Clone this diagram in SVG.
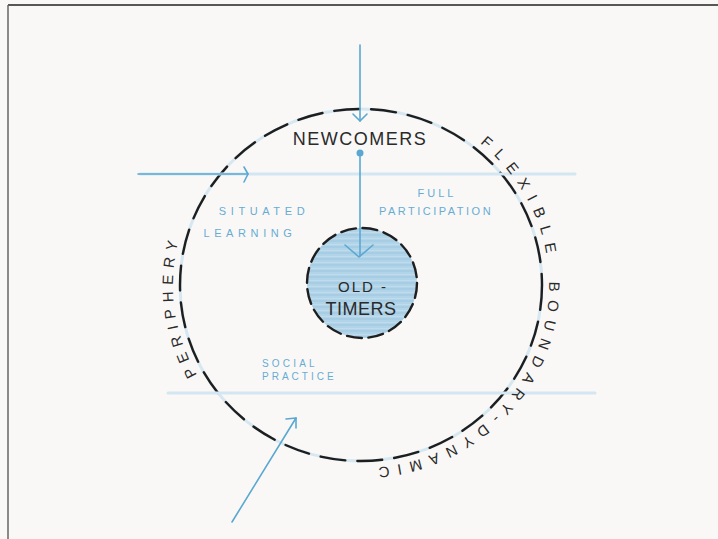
<svg xmlns="http://www.w3.org/2000/svg" width="718" height="539" viewBox="0 0 718 539">
<style>
.hand{font-family:"Liberation Sans","DejaVu Sans",sans-serif;fill:#2a2a2a}
.blue{font-family:"Liberation Sans","DejaVu Sans",sans-serif;fill:#68acd4}
.conn{stroke:#5aa8d2;stroke-width:1.6;fill:none;stroke-linecap:round;stroke-linejoin:round}
.faint{stroke:#d3e6f1;stroke-width:3;fill:none;stroke-linecap:round}
.ring{font-family:"Liberation Sans","DejaVu Sans",sans-serif;fill:#2a2a2a;font-size:15px}
</style>
<defs>
<pattern id="streak" width="10" height="6" patternUnits="userSpaceOnUse">
<rect width="10" height="6" fill="#b2d4e8"/>
<rect y="0" width="10" height="2" fill="#a6cde4"/>
<rect y="4" width="10" height="1" fill="#bfdbec"/>
</pattern>
<path id="ringPath" d="M361 102 A188 183 0 1 1 361 468 A188 183 0 1 1 361 102"/>
</defs>
<rect width="718" height="539" fill="#f9f8f6"/>
<line x1="8" y1="5" x2="718" y2="5" stroke="#222" stroke-width="1.5"/>
<line x1="8" y1="5" x2="8" y2="539" stroke="#666" stroke-width="1.5"/>

<g id="community">
<ellipse cx="361" cy="285" rx="181" ry="176" fill="none" stroke="#d5e7f1" stroke-width="3"/>
<ellipse cx="361" cy="285" rx="181" ry="176" fill="none" stroke="#1e1e1e" stroke-width="2.4" stroke-dasharray="25 12" stroke-linecap="round"/>
</g>

<g id="guides">
<line class="faint" x1="140" y1="174" x2="575" y2="174"/>
<line class="faint" x1="168" y1="393" x2="595" y2="393"/>
</g>

<g id="oldtimers">
<circle cx="362" cy="283" r="55" fill="url(#streak)"/>
<circle cx="362" cy="283" r="55" fill="none" stroke="#1e1e1e" stroke-width="2.4" stroke-dasharray="15 6.6" stroke-linecap="round"/>
<text class="hand" x="363" y="292" font-size="15" text-anchor="middle" letter-spacing="2">OLD -</text>
<text class="hand" x="361" y="315" font-size="18" text-anchor="middle" letter-spacing="0.5">TIMERS</text>
</g>

<g id="newcomers">
<text class="hand" x="360" y="145" font-size="18" text-anchor="middle" letter-spacing="1.5">NEWCOMERS</text>
</g>

<g id="connectors">
<line class="conn" x1="360" y1="45" x2="360" y2="121"/>
<polyline class="conn" points="353,114 360,121 367,114"/>
<circle cx="360" cy="153" r="3.5" fill="#5aa8d2"/>
<line class="conn" x1="360" y1="153" x2="360" y2="256"/>
<polyline class="conn" points="345,245 359,257 373,245" stroke-width="2.6"/>
<line class="conn" x1="138" y1="174" x2="248" y2="174"/>
<polyline class="conn" points="244,167 248,174 244,182" stroke-width="2.4"/>
<line class="conn" x1="232" y1="522" x2="296" y2="418" stroke-width="1.3"/>
<polyline class="conn" points="286,419 296,418 296,428" stroke-width="2.4"/>
</g>

<g id="labels">
<text class="blue" x="437" y="197" font-size="11" text-anchor="middle" letter-spacing="3">FULL</text>
<text class="blue" x="436" y="215" font-size="11" text-anchor="middle" letter-spacing="2.5">PARTICIPATION</text>
<text class="blue" x="264" y="215" font-size="11" text-anchor="middle" letter-spacing="4.6">SITUATED</text>
<text class="blue" x="250" y="237" font-size="11" text-anchor="middle" letter-spacing="4.6">LEARNING</text>
<text class="blue" x="262" y="367" font-size="10" letter-spacing="3.2">SOCIAL</text>
<text class="blue" x="262" y="380" font-size="10" letter-spacing="3">PRACTICE</text>
</g>

<g id="ring-labels">
<text class="ring" letter-spacing="8.8"><textPath href="#ringPath" startOffset="128">FLEXIBLE</textPath></text>
<text class="ring" letter-spacing="7.9"><textPath href="#ringPath" startOffset="288">BOUNDARY-</textPath></text>
<text class="ring" letter-spacing="7.9"><textPath href="#ringPath" startOffset="449">DYNAMIC</textPath></text>
<text class="ring" letter-spacing="6.4"><textPath href="#ringPath" startOffset="780">PERIPHERY</textPath></text>
</g>
</svg>
